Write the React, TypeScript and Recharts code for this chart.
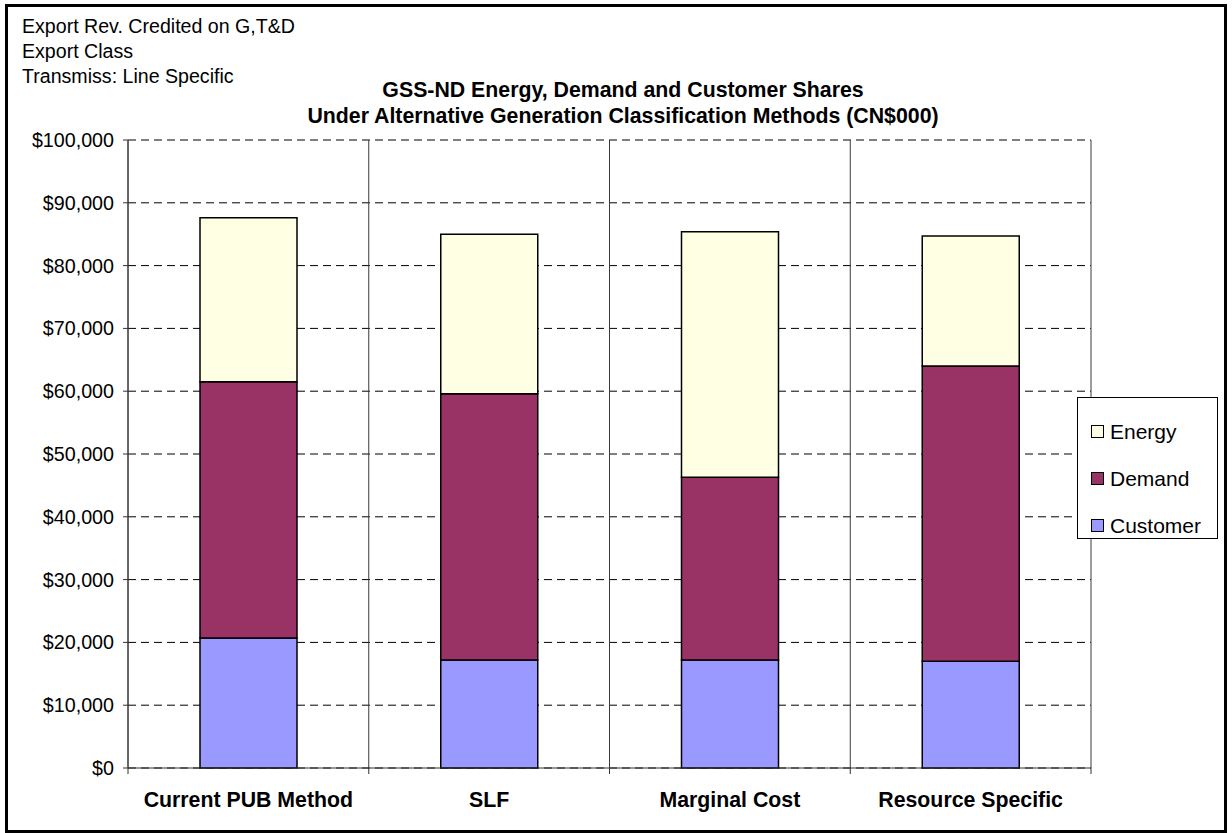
import { BarChart, Bar, XAxis, YAxis, CartesianGrid } from 'recharts'

const METHODS = ['Current PUB Method', 'SLF', 'Marginal Cost', 'Resource Specific']
const CUSTOMER = [20700, 17200, 17200, 17000]
const DEMAND = [40800, 42400, 29100, 47000]
const ENERGY = [26100, 25400, 39100, 20700]
const Y_TICKS = [0, 10000, 20000, 30000, 40000, 50000, 60000, 70000, 80000, 90000, 100000]

const HEADER = ['Export Rev. Credited on G,T&D', 'Export Class', 'Transmiss: Line Specific']
const TITLE = [
  'GSS-ND Energy, Demand and Customer Shares',
  'Under Alternative Generation Classification Methods (CN$000)',
]

const SERIES = [
  { key: 'customer', name: 'Customer', color: '#9999FF' },
  { key: 'demand', name: 'Demand', color: '#993366' },
  { key: 'energy', name: 'Energy', color: '#FFFFE3' },
]

const data = METHODS.map((method, i) => ({
  method,
  customer: CUSTOMER[i],
  demand: DEMAND[i],
  energy: ENERGY[i],
}))

const FONT = '"Liberation Sans", Arial, sans-serif'

const money = (v: number) => `$${v.toLocaleString('en-US')}`

// category label plus the Excel-style tick marks sitting on the band edges
function CatTick(props: any) {
  const { x, y, payload, index } = props
  const count = props.visibleTicksCount ?? METHODS.length
  const band = (props.width ?? 962) / count
  const left = x - band / 2
  const right = x + band / 2
  return (
    <g>
      <line x1={left} x2={left} y1={y} y2={y + 6} stroke="#333" />
      {index === count - 1 && <line x1={right} x2={right} y1={y} y2={y + 6} stroke="#333" />}
      <text x={x} y={y + 38.7} textAnchor="middle" fontFamily={FONT} fontSize={21.3} fontWeight="bold" fill="#000">
        {payload.value}
      </text>
    </g>
  )
}

// solid separators between the categories
const bandEdges = ({ offset }: any) =>
  [...METHODS.map((_, i) => i), METHODS.length].map((i) => offset.left + (offset.width * i) / METHODS.length)

export default function App() {
  return (
    <div style={{ position: 'absolute', left: 0, top: 0, width: 1232, height: 833, background: '#fff', fontFamily: FONT }}>
      <BarChart width={1232} height={833} data={data} margin={{ top: 140, right: 141, bottom: 9, left: 28 }}>
        <CartesianGrid vertical={false} stroke="#000" strokeDasharray="8 5" />
        <CartesianGrid horizontal={false} stroke="#3a3a3a" verticalCoordinatesGenerator={bandEdges} />
        <XAxis
          dataKey="method"
          height={56}
          interval={0}
          tickSize={0}
          tickMargin={0}
          axisLine={{ stroke: '#333' }}
          tickLine={false}
          tick={<CatTick />}
        />
        <YAxis
          width={100}
          domain={[0, 100000]}
          ticks={Y_TICKS}
          tickFormatter={money}
          tickSize={5}
          tickMargin={9}
          axisLine={{ stroke: '#333' }}
          tickLine={{ stroke: '#333' }}
          tick={{ fill: '#000', fontSize: 19.7, fontFamily: FONT }}
        />
        {SERIES.map((s) => (
          <Bar
            key={s.key}
            dataKey={s.key}
            name={s.name}
            stackId="total"
            fill={s.color}
            stroke="#000"
            strokeWidth={1.5}
            barSize={97}
            isAnimationActive={false}
          />
        ))}
      </BarChart>

      <div style={{ position: 'absolute', left: 22, top: 14, fontSize: 19.6, lineHeight: '25px', color: '#000' }}>
        {HEADER.map((t) => (
          <div key={t}>{t}</div>
        ))}
      </div>

      <div
        style={{
          position: 'absolute',
          left: 223,
          top: 77,
          width: 800,
          textAlign: 'center',
          fontSize: 21.3,
          lineHeight: '26px',
          fontWeight: 'bold',
          color: '#000',
        }}
      >
        {TITLE.map((t) => (
          <div key={t}>{t}</div>
        ))}
      </div>

      <div
        style={{
          position: 'absolute',
          left: 1077,
          top: 397,
          width: 141,
          height: 142,
          boxSizing: 'border-box',
          border: '1px solid #000',
          background: '#fff',
          paddingTop: 10,
        }}
      >
        {[...SERIES].reverse().map((s) => (
          <div key={s.key} style={{ display: 'flex', alignItems: 'center', height: 47, paddingLeft: 13 }}>
            <span
              style={{
                width: 13,
                height: 13,
                boxSizing: 'border-box',
                border: '1.5px solid #000',
                background: s.color,
                marginRight: 6,
              }}
            />
            <span style={{ fontSize: 21, color: '#000' }}>{s.name}</span>
          </div>
        ))}
      </div>

      <div
        style={{
          position: 'absolute',
          left: 5,
          top: 4,
          width: 1222,
          height: 829,
          boxSizing: 'border-box',
          border: '3px solid #000',
          pointerEvents: 'none',
        }}
      />
    </div>
  )
}
